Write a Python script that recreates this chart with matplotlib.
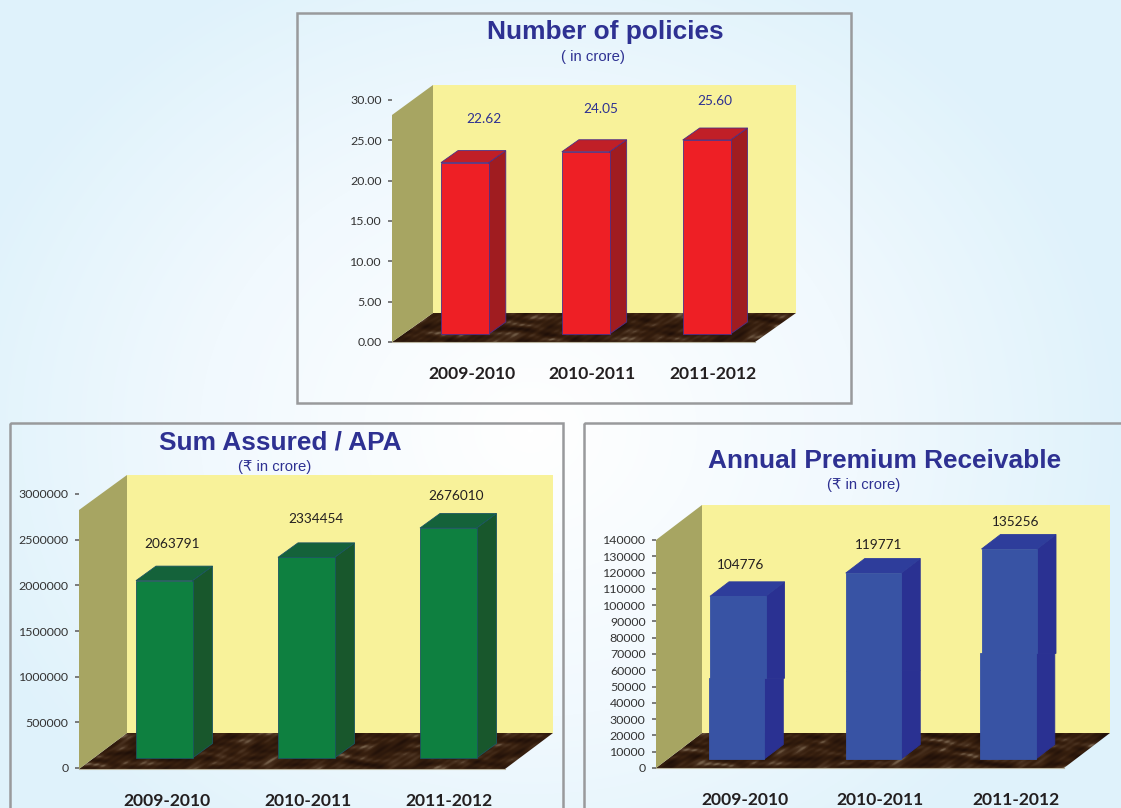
import numpy as np
import matplotlib
matplotlib.use("Agg")
import matplotlib.pyplot as plt
from matplotlib.colors import LinearSegmentedColormap
from matplotlib.patches import Polygon, Rectangle

# data
years = ["2009-2010", "2010-2011", "2011-2012"]
policies = [22.62, 24.05, 25.60]
policies_labels = ["22.62", "24.05", "25.60"]
policies_ticks = [0, 5, 10, 15, 20, 25, 30]
sum_assured = [2063791, 2334454, 2676010]
sum_assured_ticks = [0, 500000, 1000000, 1500000, 2000000, 2500000, 3000000]
premium = [104776, 119771, 135256]
premium_ticks = list(range(0, 140001, 10000))
# the source picture is stitched together in the last chart, the lower part of a bar sits a bit to the left
premium_seams = [52000, 57000, 68000]
premium_seam_shift = [-1.2, 0, -1.2]

W, H = 1121, 808
NAVY = "#2e3192"
WALL = "#a7a562"
BACK = "#f8f29a"
FONT = "Lato"
TITLE_FONT = ["Liberation Sans", "DejaVu Sans"]

fig = plt.figure(figsize=(W / 100, H / 100), dpi=100)


def px_axes(x0, y_bottom, x1, y_top):
    return fig.add_axes([x0 / W, 1 - y_bottom / H, (x1 - x0) / W, (y_bottom - y_top) / H])


# page in pixel coordinates, everything that is not a data mark goes here
bg = fig.add_axes([0, 0, 1, 1])
yy, xx = np.mgrid[0:H, 0:W]
d = np.clip(np.hypot((xx - 530) / 600, (yy - 430) / 520), 0, 1)
bg_cmap = LinearSegmentedColormap.from_list("bg", [(0, "#ffffff"), (0.55, "#f1f9fe"), (1, "#dff2fb")])
bg.imshow(d, cmap=bg_cmap, extent=(0, W, H, 0), aspect="auto", vmin=0, vmax=1)

floor_cmap = LinearSegmentedColormap.from_list("floor", [(0, "#1f0f08"), (0.55, "#38200f"), (0.8, "#4a3220"), (1, "#75604a")])


def floor_texture(x0, x1, y0, y1, clip):
    v, u = np.mgrid[y0:y1, x0:x1]
    # marble look, no data in it
    t = (np.sin(u * 0.07 + 2.6 * np.sin(v * 0.23 + u * 0.03))
         + np.sin(v * 0.41 + 3.1 * np.sin(u * 0.05 - v * 0.11))
         + 0.9 * np.sin((u - 1.7 * v) * 0.17 + 2.2 * np.sin(u * 0.09 + v * 0.29))
         + 0.5 * np.sin(u * 0.71 + v * 1.13))
    im = bg.imshow(t, cmap=floor_cmap, extent=(x0, x1, y1, y0), aspect="auto", vmin=-3.3, vmax=3.3)
    im.set_clip_path(clip)


def draw_bar(ax, x, bottom, top, width, ddx, ddy, colors, edge, cap=True):
    front, side, cap_color = colors
    left, right = x - width / 2, x + width / 2
    # edge None: every face gets an edge in its own colour so no gaps show
    ax.bar(x, top - bottom, width, bottom=bottom, color=front, edgecolor=edge or front, linewidth=0.6, zorder=3,
           clip_on=False)
    side_low = bottom + ddy if bottom == 0 else bottom
    side_high = top + ddy if cap else top
    ax.fill([right, right + ddx, right + ddx, right],
            [bottom, side_low, side_high, top], fc=side, ec=edge or side, lw=0.6, zorder=2, clip_on=False)
    if cap:
        ax.fill([left, left + ddx, right + ddx, right],
                [top, top + ddy, top + ddy, top], fc=cap_color, ec=edge or cap_color, lw=0.6, zorder=2, clip_on=False)


def draw_panel(values, ticks, tick_fmt, labels, label_xy, cat_x, cat_y, frame, wall, bar_box, depth,
               colors, edge, label_color, title, title_xy, title_size, sub, sub_xy,
               tick_box, seams=None, seam_shift=None):
    # frame
    fx0, fy0, fx1, fy1 = frame
    bg.add_patch(Rectangle((fx0, fy0), fx1 - fx0, fy1 - fy0, fill=False, ec="#999a9c", lw=1.8))

    # side wall, back wall and floor
    wx0, wx1, wx_right, wy_front, wy_back, wy_top_front, wy_top_back = wall
    wall_dx = wx1 - wx0
    bg.add_patch(Rectangle((wx1, wy_top_back), wx_right - wx1, wy_back - wy_top_back, color=BACK, lw=0))
    bg.add_patch(Polygon([(wx0, wy_front), (wx0, wy_top_front), (wx1, wy_top_back), (wx1, wy_back)],
                         color=WALL, lw=0))
    floor = Polygon([(wx0, wy_front), (wx1, wy_back), (wx_right, wy_back), (wx_right - wall_dx, wy_front)],
                    fc="none", ec="none")
    bg.add_patch(floor)
    floor_texture(wx0, wx_right, wy_back, wy_front, floor)
    bg.plot([wx0, wx_right - wall_dx], [wy_front, wy_front], color="#b9b4a0", lw=0.8)

    # tick labels have their own scale in the original, they do not line up with the bars
    tx, ty0, ty1 = tick_box
    ax_t = px_axes(tx, ty0, tx + 1, ty1)
    ax_t.patch.set_visible(False)
    ax_t.set_ylim(ticks[0], ticks[-1])
    ax_t.set_xticks([])
    ax_t.set_yticks(ticks)
    ax_t.set_yticklabels([tick_fmt.format(t) for t in ticks], fontfamily=FONT, fontsize=8.9, color="#333333")
    ax_t.tick_params(axis="y", length=3, width=1.2, color="#666666", pad=4.5)
    for s in ax_t.spines.values():
        s.set_visible(False)

    # bars, axes runs from left edge of first bar to right edge of last bar, base to tallest top
    bx0, bx1, by0, by1 = bar_box
    ax = px_axes(bx0, by0, bx1, by1)
    ax.axis("off")
    n = len(values)
    spacing_px = (bx1 - bx0 - depth[2]) / (n - 1)
    bw = depth[2] / spacing_px
    ax.set_xlim(-bw / 2, n - 1 + bw / 2)
    ax.set_ylim(0, max(values))
    ddx = depth[0] / spacing_px
    ddy = depth[1] / (by0 - by1) * max(values)
    for i, v in enumerate(values):
        if seams is None:
            draw_bar(ax, i, 0, v, bw, ddx, ddy, colors, edge)
        else:
            draw_bar(ax, i, seams[i], v, bw, ddx, ddy, colors, edge)
            draw_bar(ax, i + seam_shift[i] / spacing_px, 0, seams[i], bw, ddx, ddy, colors, edge, cap=False)

    # texts
    for s, (x, y) in zip(labels, label_xy):
        bg.text(x, y, s, ha="center", va="center", fontfamily=FONT, fontsize=9.8, color=label_color)
    for s, x in zip(years, cat_x):
        bg.text(x, cat_y, s, ha="center", va="center", fontfamily=FONT, fontweight="bold",
                fontsize=12.6, color="#231f20")
    bg.text(title_xy[0], title_xy[1], title, ha="center", va="center", family=TITLE_FONT,
            fontweight="bold", fontsize=title_size, color=NAVY)
    bg.text(sub_xy[0], sub_xy[1], sub, ha="center", va="center", family=TITLE_FONT, fontsize=10.7, color=NAVY)


draw_panel(policies, policies_ticks, "{:.2f}", policies_labels,
           [(484, 119), (601, 109), (715, 101)], [472, 592, 713], 374,
           (297, 13, 851, 403), (392, 433, 796, 342, 313, 115, 85),
           (441, 730.5, 334, 140), (17, 12, 47.8),
           ("#ee1f25", "#a01c20", "#c01f27"), "#4b2f88", NAVY,
           "Number of policies", (605, 32), 18.9, "( in crore)", (593, 57),
           (392, 342, 100))

draw_panel(sum_assured, sum_assured_ticks, "{:d}", [str(v) for v in sum_assured],
           [(172, 544), (316, 519), (456, 496)], [167, 308, 449], 801,
           (10, 423, 563, 830), (79, 127, 553, 769, 733, 510, 475),
           (136, 476.5, 758, 528), (20, 14.5, 56.5),
           ("#0e8040", "#18572c", "#14623a"), "#1b5560", "#231f20",
           "Sum Assured / APA", (280, 443), 18.9, "(₹ in crore)", (275, 467),
           (79, 768, 494))

draw_panel(premium, premium_ticks, "{:d}", [str(v) for v in premium],
           [(741, 565), (879, 545), (1016, 522)], [745, 880, 1016], 800,
           (584, 423, 1140, 830), (656, 702, 1110, 768, 733, 540, 505),
           (710, 1037, 759, 549), (19, 14.5, 55.5),
           ("#3853a4", "#2a3192", "#2e3d9b"), None, "#231f20",
           "Annual Premium Receivable", (885, 461), 18.9, "(₹ in crore)", (864, 485),
           (656, 768, 540), premium_seams, premium_seam_shift)

bg.set_xlim(0, W)
bg.set_ylim(H, 0)
bg.axis("off")

fig.savefig("out.png", dpi=100)
